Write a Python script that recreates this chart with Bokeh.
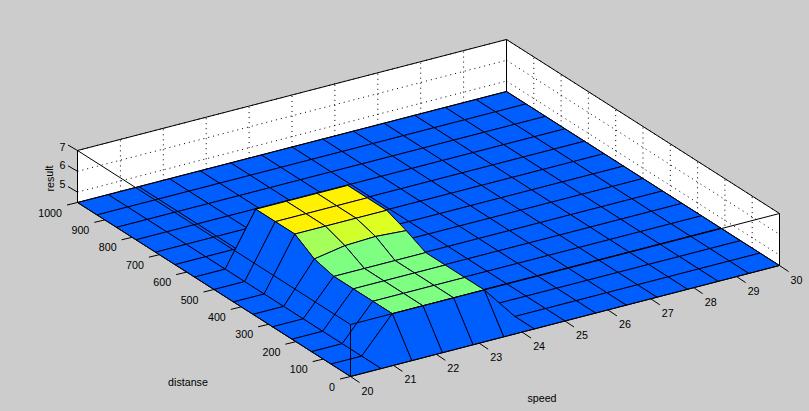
from bokeh.plotting import figure
from bokeh.models import ColumnDataSource, LinearColorMapper, Range1d, GlobalInlineStyleSheet
from bokeh.core.properties import value
from bokeh.embed import file_html
from bokeh.resources import INLINE

# ---- data ----
speed = [20 + 10 * i / 14 for i in range(15)]
distance = [1000 * i / 14 for i in range(15)]
L = 4.5
result_d00 = [L] * 15
result_d01 = [L, L, 6.16, 6.16, 6.16, 6.16] + [L] * 9
result_d02 = [L, L, 6.16, 6.16, 6.16, 6.16] + [L] * 9
result_d03 = [L, L, 6.16, 6.16, 6.16, 6.16] + [L] * 9
result_d04 = [L, L, 6.16, 6.16, 6.16, 6.16] + [L] * 9
result_d05 = [L, L, 6.40, 6.66, 6.72, 6.62] + [L] * 9
result_d06 = [L, L, 7.0, 7.0, 7.0, 7.0] + [L] * 9
result_d07 = [L, L, 7.0, 7.0, 7.0, 7.0] + [L] * 9
result_d08 = [L, L, 7.0, 7.0, 7.0, 7.0] + [L] * 9
result_d09 = [L] * 15
result_d10 = [L] * 15
result_d11 = [L] * 15
result_d12 = [L] * 15
result_d13 = [L] * 15
result_d14 = [L] * 15
result = [result_d00, result_d01, result_d02, result_d03, result_d04,
          result_d05, result_d06, result_d07, result_d08, result_d09,
          result_d10, result_d11, result_d12, result_d13, result_d14]

speed_ticks = [20, 21, 22, 23, 24, 25, 26, 27, 28, 29, 30]
distance_ticks = [0, 100, 200, 300, 400, 500, 600, 700, 800, 900, 1000]
result_ticks = [5, 6, 7]
Z_MIN, Z_MAX = 4.5, 7.0
C_LOW, C_HIGH = 3.2, 9.15


# ---- 3-D view (the projection of the MATLAB axes box) ----
def proj(s, d, z):
    a = (s - 20) / 10
    b = d / 1000
    c = (z - Z_MIN) / (Z_MAX - Z_MIN)
    return 350 + 429 * a - 273 * b, 376 - 111 * a - 174 * b - 52 * c


def jet(n=256):
    out = []
    for i in range(n):
        f = (i + 0.5) / n
        ch = [min(4 * f - 1.5, 4.5 - 4 * f), min(4 * f - 0.5, 3.5 - 4 * f), min(4 * f + 0.5, 2.5 - 4 * f)]
        r, g, b = [int(round(255 * max(0, min(1, v)))) for v in ch]
        out.append("#%02x%02x%02x" % (r, g, b))
    return out


p = figure(width=809, height=411, x_range=Range1d(0, 809), y_range=Range1d(411, 0),
           output_backend="svg", toolbar_location=None, min_border=0,
           background_fill_color="#cccccc", border_fill_color="#cccccc", outline_line_color=None)
p.axis.visible = False
p.grid.visible = False
p.stylesheets = [GlobalInlineStyleSheet(css="html,body{background:#cccccc;overflow:hidden}")]


def segment(a, b, **kw):
    p.line([a[0], b[0]], [a[1], b[1]], **kw)


# back walls
walls = [[(20, 1000, Z_MIN), (30, 1000, Z_MIN), (30, 1000, Z_MAX), (20, 1000, Z_MAX)],
         [(30, 1000, Z_MIN), (30, 0, Z_MIN), (30, 0, Z_MAX), (30, 1000, Z_MAX)]]
for w in walls:
    pts = [proj(*q) for q in w]
    p.patch([q[0] for q in pts], [q[1] for q in pts], fill_color="white", line_color=None)

DOT = dict(line_color="black", line_width=1, line_dash="1 4")
for s in speed_ticks[1:-1]:
    segment(proj(s, 1000, Z_MIN), proj(s, 1000, Z_MAX), **DOT)
for d in distance_ticks[1:-1]:
    segment(proj(30, d, Z_MIN), proj(30, d, Z_MAX), **DOT)
for z in result_ticks:
    segment(proj(20, 1000, z), proj(30, 1000, z), **DOT)
    segment(proj(30, 1000, z), proj(30, 0, z), **DOT)

# surface, far cells first
xs, ys, cs = [], [], []
for j in range(13, -1, -1):
    for i in range(13, -1, -1):
        corners = [(i, j), (i + 1, j), (i + 1, j + 1), (i, j + 1)]
        pts = [proj(speed[a], distance[b], result[b][a]) for a, b in corners]
        xs.append([q[0] for q in pts])
        ys.append([q[1] for q in pts])
        cs.append(result[j][i])
mapper = LinearColorMapper(palette=jet(), low=C_LOW, high=C_HIGH)
p.patches("xs", "ys", source=ColumnDataSource(dict(xs=xs, ys=ys, c=cs)),
          fill_color=dict(field="c", transform=mapper), line_color="#000020", line_width=1)

# box edges
BOX = dict(line_color="black", line_width=1)
edges = [((20, 0), (30, 0)), ((30, 0), (30, 1000)), ((30, 1000), (20, 1000)), ((20, 1000), (20, 0))]
for a, b in edges:
    segment(proj(*a, Z_MIN), proj(*b, Z_MIN), **BOX)
    segment(proj(*a, Z_MAX), proj(*b, Z_MAX), **BOX)
for s, d in [(20, 0), (30, 0), (30, 1000), (20, 1000)]:
    segment(proj(s, d, Z_MIN), proj(s, d, Z_MAX), **BOX)

# ticks and labels
TEXT = dict(text_font=value("Liberation Sans"), text_font_size="10.7px", text_color="black", text_baseline="middle")
for s in speed_ticks:
    x, y = proj(s, 0, Z_MIN)
    segment((x, y), (x + 9, y + 6), **BOX)
    p.text([x + 17], [y + 14], text=[str(s)], text_align="center", **TEXT)
for d in distance_ticks:
    x, y = proj(20, d, Z_MIN)
    segment((x, y), (x - 10.5, y + 2.5), **BOX)
    p.text([x - 15.5], [y + 10], text=[str(d)], text_align="right", **TEXT)
for z in result_ticks:
    x, y = proj(20, 1000, z)
    segment((x, y), (x - 9.5, y - 5.5), **BOX)
    p.text([x - 12], [y - 4 - (7 - z) * 1.9], text=[str(z)], text_align="right", **TEXT)

p.text([49], [178], text=["result"], angle=[1.5708], text_align="center", **TEXT)
p.text([187.5], [381], text=["distanse"], text_align="center", **TEXT)
p.text([541.5], [397], text=["speed"], text_align="center", **TEXT)

open("out.html", "w").write(file_html(p, INLINE))
